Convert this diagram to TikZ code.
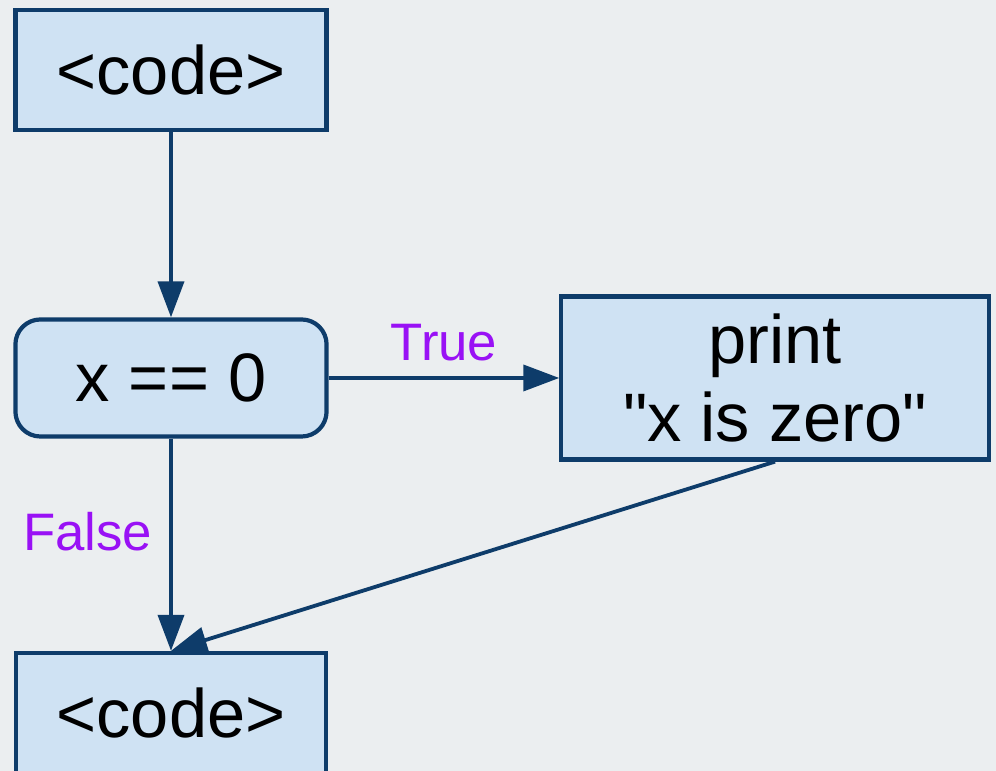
\documentclass[tikz,border=0pt]{standalone}
\usepackage{fontspec}
\setmainfont{Liberation Sans}
\newfontfamily\qfont{Liberation Sans}
\usetikzlibrary{arrows.meta}
\definecolor{bgcol}{RGB}{235,238,240}
\definecolor{boxfill}{RGB}{207,226,243}
\definecolor{boxline}{RGB}{14,60,106}
\definecolor{lblcol}{RGB}{153,17,245}
\begin{document}
\begin{tikzpicture}[x=0.01cm,y=-0.01cm,
  box/.style={draw=boxline, fill=boxfill, line width=0.042cm, inner sep=0pt,
    font=\qfont\fontsize{19.5}{22}\selectfont, text=black, align=center},
  conn/.style={draw=boxline, line width=0.038cm,
    -{Triangle[length=0.36cm,width=0.26cm]}},
  lbl/.style={text=lblcol, font=\fontsize{15}{18}\selectfont, inner sep=0pt}]
\useasboundingbox (0,0) rectangle (996,771);
\fill[bgcol] (0,0) rectangle (996,771);
\begin{scope}
\clip (0,0) rectangle (996,771);
\node[box, minimum width=3.11cm, minimum height=1.2cm] (code1) at (171,70) {<code>};
\node[box, rounded corners=0.25cm, minimum width=3.11cm, minimum height=1.17cm] (cond) at (171,378) {x == 0};
\node[box, minimum width=4.27cm, minimum height=1.63cm] (print) at (775,378) {print\\"x is zero"};
\node[box, minimum width=3.1cm, minimum height=1.2cm] (code2) at (171,713) {<code>};
\draw[conn] (code1) -- (cond);
\draw[conn] (cond) -- node[lbl, anchor=base, yshift=0.17cm] (tlbl) {True} (print);
\draw[conn] (cond) -- node[lbl, anchor=base east, xshift=-0.17cm, yshift=-0.06cm] (flbl) {False} (code2);
\draw[conn] (print.south) -- (code2.north);
\end{scope}
\end{tikzpicture}
\end{document}
